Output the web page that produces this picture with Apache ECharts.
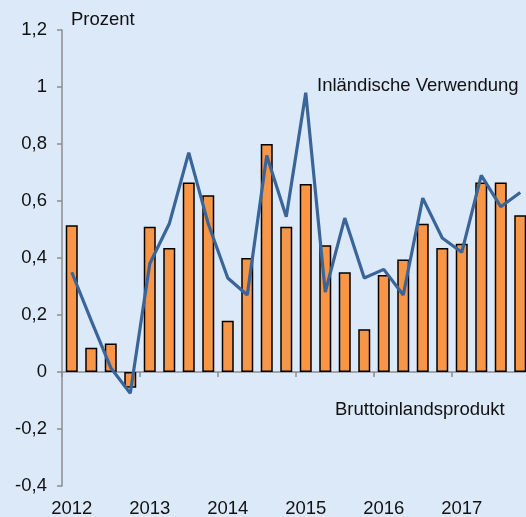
<!DOCTYPE html>
<html>
<head>
<meta charset="utf-8">
<script src="https://cdn.jsdelivr.net/npm/echarts@6/dist/echarts.min.js"></script>
<style>
  html, body { margin: 0; padding: 0; background: #dce9f8; }
  #container { width: 526px; height: 517px; }
</style>
</head>
<body>
<div id="container"></div>
<script>
// Quartale 2012 Q1 .. 2017 Q4
var years = ['2012', '2013', '2014', '2015', '2016', '2017'];
var quarters = [];
for (var y = 0; y < years.length; y++) {
    for (var q = 1; q <= 4; q++) {
        quarters.push(years[y] + ' Q' + q);
    }
}

// Bruttoinlandsprodukt (Balken)
var bip = [0.515, 0.085, 0.10, -0.055, 0.51, 0.435, 0.665, 0.62,
           0.18, 0.40, 0.80, 0.51, 0.66, 0.445, 0.35, 0.15,
           0.34, 0.395, 0.52, 0.435, 0.45, 0.665, 0.665, 0.55];

// Inländische Verwendung (Linie)
var inland = [0.35, 0.18, 0.015, -0.075, 0.38, 0.52, 0.77, 0.52,
              0.33, 0.27, 0.76, 0.545, 0.98, 0.28, 0.54, 0.33,
              0.36, 0.27, 0.61, 0.47, 0.42, 0.69, 0.58, 0.63];

var yTicks = {min: -0.4, max: 1.2, interval: 0.2};

var font = 'Liberation Sans, Arial, sans-serif';
var fs = 18.5;

var myChart = echarts.init(document.getElementById('container'));

var option = {
    backgroundColor: '#dce9f8',
    animation: false,
    grid: {left: 62, right: -4, top: 30, bottom: 31, containLabel: false, outerBoundsMode: 'none'},
    xAxis: {
        type: 'category',
        data: quarters,
        boundaryGap: true,
        axisLine: {onZero: true, lineStyle: {color: '#8c8c8c', width: 1.5}},
        axisTick: {show: true, interval: 3, length: 5, lineStyle: {color: '#8c8c8c', width: 1.5}},
        axisLabel: {
            interval: 3,
            margin: 13,
            color: '#111',
            fontSize: fs,
            fontFamily: font,
            formatter: function (v) {
                return v.substring(0, 4);
            }
        },
        splitLine: {show: false}
    },
    yAxis: {
        type: 'value',
        min: yTicks.min,
        max: yTicks.max,
        interval: yTicks.interval,
        axisLine: {show: true, lineStyle: {color: '#8c8c8c', width: 1.5}},
        axisTick: {show: true, length: 5, lineStyle: {color: '#8c8c8c', width: 1.5}},
        axisLabel: {
            margin: 15,
            color: '#111',
            fontSize: fs,
            fontFamily: font,
            formatter: function (v) {
                return String(+v.toFixed(1)).replace('.', ',');
            }
        },
        splitLine: {show: false}
    },
    graphic: [
        {type: 'text', left: 71, top: 10,
            style: {text: 'Prozent', fontSize: fs, fontFamily: font, fill: '#111'}},
        {type: 'text', left: 317, top: 76,
            style: {text: 'Inländische Verwendung', fontSize: fs, fontFamily: font, fill: '#111'}},
        {type: 'text', left: 335, top: 400,
            style: {text: 'Bruttoinlandsprodukt', fontSize: fs, fontFamily: font, fill: '#111'}}
    ],
    series: [
        {
            name: 'Bruttoinlandsprodukt',
            type: 'bar',
            data: bip,
            barWidth: 12,
            itemStyle: {color: '#f79646', borderColor: '#000', borderWidth: 1.5}
        },
        {
            name: 'Inländische Verwendung',
            type: 'line',
            data: inland,
            symbol: 'none',
            lineStyle: {color: '#3a6598', width: 3.2}
        }
    ]
};

myChart.setOption(option);
</script>
</body>
</html>
